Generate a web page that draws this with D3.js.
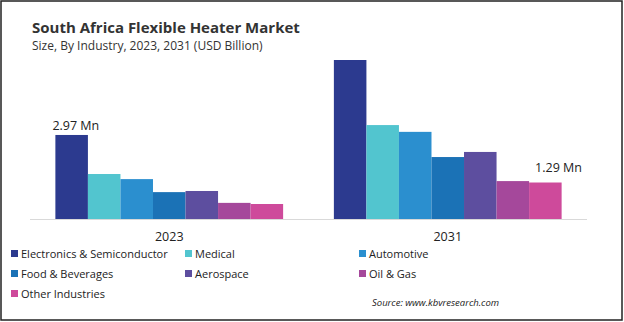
<!DOCTYPE html>
<html>
<head>
<meta charset="utf-8">
<script src="https://cdn.jsdelivr.net/npm/d3@7"></script>
<style>
  body { margin: 0; background: #fff; }
  text { font-family: 'Open Sans', sans-serif; fill: #222; }
</style>
</head>
<body>
<script>
// chart data --------------------------------
var years = ['2023', '2031'];
var industries = ['Electronics & Semiconductor', 'Medical', 'Automotive', 'Food & Beverages',
                  'Aerospace', 'Oil & Gas', 'Other Industries'];
var values2023 = [2.97, 1.59, 1.41, 0.95, 0.99, 0.57, 0.53];
var values2031 = [5.62, 3.32, 3.08, 2.19, 2.37, 1.34, 1.29];
var colors = ['#2c3a8f', '#52c5cf', '#2b8fcf', '#1b72b6', '#5d4e9f', '#a5489b', '#ce4a9b'];
var valueLabels = [
  { year: '2023', industry: 0, text: '2.97 Mn' },
  { year: '2031', industry: 6, text: '1.29 Mn' }
];

var config = {
  width: 624,
  height: 322,
  left: 30,
  right: 587,
  baseline: 219
};

var seriesByYear = { '2023': values2023, '2031': values2031 };

var svg = d3.select('body').append('svg')
  .attr('width', config.width)
  .attr('height', config.height);

// frame
svg.append('rect')
  .attr('x', 1).attr('y', 1)
  .attr('width', config.width - 3).attr('height', config.height - 3)
  .attr('fill', 'none')
  .attr('stroke', '#222')
  .attr('stroke-width', 1.5);

// titles
svg.append('text')
  .attr('x', 32).attr('y', 33)
  .style('font-size', '15px').style('font-weight', 'bold').style('fill', '#333')
  .text('South Africa Flexible Heater Market');

svg.append('text')
  .attr('x', 32).attr('y', 50)
  .style('font-size', '12px').style('fill', '#333')
  .text('Size, By Industry, 2023, 2031 (USD Billion)');

// scales
var x0 = d3.scaleBand()
  .domain(years)
  .range([config.left, config.right])
  .paddingInner(0)
  .paddingOuter(0);

var x1 = d3.scaleBand()
  .domain(d3.range(industries.length))
  .range([0, x0.bandwidth()])
  .paddingOuter(0.78);

var y = d3.scaleLinear()
  .domain([0, 5.62])
  .range([config.baseline, 60]);

// bars
var groups = svg.selectAll('g.year')
  .data(years)
  .enter()
  .append('g')
  .attr('class', 'year')
  .attr('transform', function(d) { return 'translate(' + x0(d) + ',0)'; });

groups.selectAll('rect')
  .data(function(d) {
    return seriesByYear[d].map(function(v, i) { return { i: i, v: v }; });
  })
  .enter()
  .append('rect')
  .attr('x', function(d) { return x1(d.i); })
  .attr('width', x1.bandwidth())
  .attr('y', function(d) { return y(d.v); })
  .attr('height', function(d) { return config.baseline - y(d.v); })
  .attr('fill', function(d) { return colors[d.i]; });

// baseline
svg.append('line')
  .attr('x1', config.left).attr('x2', config.right)
  .attr('y1', config.baseline + 0.5).attr('y2', config.baseline + 0.5)
  .attr('stroke', '#d9d9d9')
  .attr('stroke-width', 1);

// x axis labels
var xAxis = d3.axisBottom(x0).tickSize(0).tickPadding(13);
var axisG = svg.append('g')
  .attr('transform', 'translate(0,' + config.baseline + ')')
  .call(xAxis);
axisG.select('.domain').remove();
axisG.selectAll('text')
  .style('font-size', '12.5px')
  .style('font-family', "'Open Sans', sans-serif")
  .style('fill', '#222');

// value labels
valueLabels.forEach(function(l) {
  var v = seriesByYear[l.year][l.industry];
  var bx = x0(l.year) + x1(l.industry);
  var first = l.industry === 0;
  svg.append('text')
    .attr('x', first ? bx - 3 : bx + 6)
    .attr('y', y(v) - (first ? 5 : 11))
    .style('font-size', '12.5px')
    .text(l.text);
});

// legend
var legendCols = [11, 185, 359];
var legend = svg.selectAll('g.legend')
  .data(industries)
  .enter()
  .append('g')
  .attr('class', 'legend')
  .attr('transform', function(d, i) {
    return 'translate(' + legendCols[i % 3] + ',' + (250 + Math.floor(i / 3) * 20) + ')';
  });

legend.append('rect')
  .attr('width', 7).attr('height', 7)
  .attr('fill', function(d, i) { return colors[i]; });

legend.append('text')
  .attr('x', 10).attr('y', 7.5)
  .style('font-size', '11px')
  .text(function(d) { return d; });

// source
svg.append('text')
  .attr('x', 372).attr('y', 306)
  .style('font-size', '9.5px')
  .style('font-style', 'italic')
  .text('Source: www.kbvresearch.com');
</script>
</body>
</html>
